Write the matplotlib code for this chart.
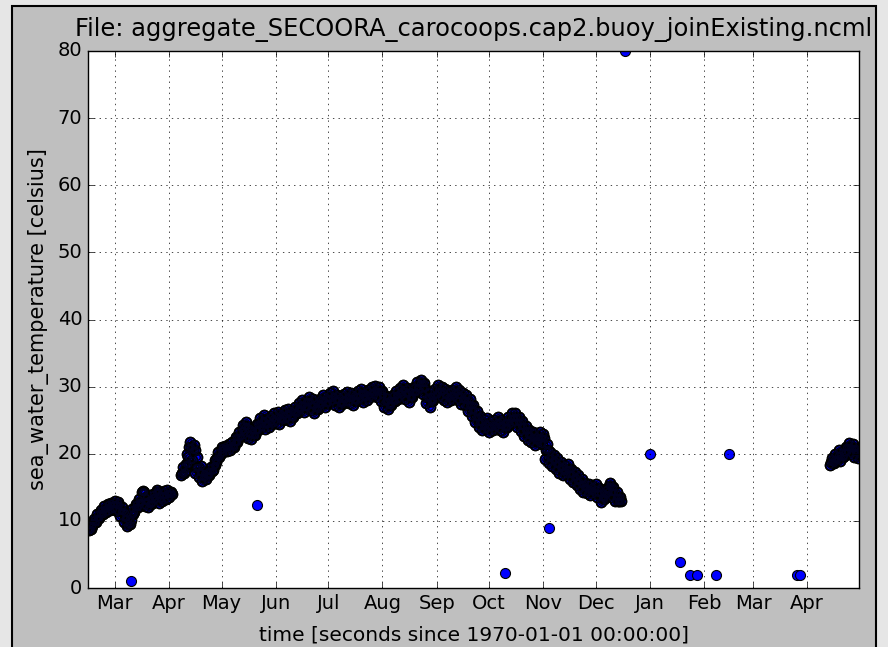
import numpy as np
import pandas as pd
import matplotlib
matplotlib.use('Agg')
import matplotlib.pyplot as plt
import matplotlib.dates as mdates
from matplotlib.patches import Rectangle

# buoy record: every 2 days a low, a middle and a
# high reading (the band is the daily swing)
seg1_start = '2005-02-14'
seg1_lo = [8.6, 9.2, 9.8, 10.5, 11.0, 11.3, 11.6, 11.8,
           11.5, 10.8, 9.8, 9.2, 10.2, 11.3, 12.0, 12.8, 12.2, 12.0,
           12.6, 13.2, 12.6, 13.0, 13.2,
           13.5]
seg1_mid = [8.8, 9.8, 10.5, 11.2, 11.8, 12.0, 12.3, 12.5,
            12.3, 11.5, 10.5, 9.5, 11.0, 12.0, 12.8, 14.3, 13.0, 12.5,
            13.5, 14.3, 13.2, 13.8, 14.2,
            14.0]
seg1_hi = [9.5, 10.3, 11.0, 11.6, 12.2, 12.5, 12.6, 13.0,
           12.8, 12.0, 11.3, 10.5, 11.8, 12.5, 13.3, 14.5, 13.5, 13.3,
           14.0, 14.6, 13.8, 14.5, 14.6,
           14.3]

seg2_start = '2005-04-08'
seg2_lo = [16.8, 17.5, 19.5, 19.0, 17.2, 16.6, 16.0, 16.3, 16.9, 17.6, 18.8, 19.8,        # Apr
           20.2, 20.4, 20.6, 21.0, 21.8, 22.6, 23.2, 22.3, 22.2, 22.8, 23.6, 24.0,
           23.7, 24.0, 24.4,                                                             # May
           24.6, 24.5, 25.0, 25.2, 24.9, 25.5, 26.0, 26.5, 26.2, 26.9, 26.5, 26.1,
           26.7, 27.2, 26.9,                                                             # Jun
           27.6, 27.8, 27.2, 26.9, 27.4, 27.7, 27.6, 27.3, 27.8, 28.2, 27.7, 28.0,
           28.4, 28.7, 28.5, 27.9,                                                       # Jul
           27.0, 26.7, 27.2, 27.9, 28.2, 28.8, 28.2, 27.7, 28.4, 29.2, 29.6, 28.9,
           27.6, 27.0, 28.0,                                                             # Aug
           28.7, 28.5, 28.0, 27.7, 28.0, 28.4, 28.0, 27.4, 27.2, 26.4, 25.6, 24.7,
           24.0, 23.5, 23.7,                                                             # Sep
           23.3, 23.6, 24.0, 23.6, 23.3, 24.0, 24.5, 24.7, 24.0, 23.4, 22.7, 22.0,
           21.7, 21.3, 21.7, 21.5,                                                       # Oct
           19.2, 18.6, 18.2, 17.7, 17.2, 16.8, 17.0, 16.2, 15.8, 15.3, 14.8, 14.3,
           14.1, 13.8, 14.1,                                                             # Nov
           13.5, 12.8, 13.3, 14.4, 13.6, 12.9, 12.9]                                     # Dec
seg2_mid = [17.2, 18.5, 21.0, 20.5, 18.0, 17.3, 16.5, 16.8, 17.5, 18.3, 19.5, 20.5,
            20.8, 21.0, 21.2, 21.8, 22.5, 23.5, 24.2, 23.0, 22.8, 23.5, 24.5, 25.0,
            24.5, 24.8, 25.3,
            25.5, 25.2, 25.8, 26.0, 25.5, 26.2, 26.8, 27.3, 27.0, 27.8, 27.3, 26.8,
            27.5, 28.0, 27.6,
            28.3, 28.6, 28.0, 27.6, 28.2, 28.5, 28.3, 28.0, 28.6, 29.0, 28.4, 28.8,
            29.2, 29.5, 29.3, 28.7,
            27.8, 27.3, 28.0, 28.7, 29.0, 29.6, 29.0, 28.5, 29.2, 30.0, 30.5, 29.8,
            28.5, 27.8, 28.8,
            29.5, 29.3, 28.8, 28.5, 28.8, 29.2, 28.8, 28.2, 28.0, 27.3, 26.5, 25.5,
            24.8, 24.2, 24.5,
            24.0, 24.3, 24.8, 24.3, 24.0, 24.8, 25.3, 25.5, 24.8, 24.2, 23.5, 22.8,
            22.5, 22.0, 22.5, 22.3,
            20.5, 19.5, 19.0, 18.5, 18.0, 17.5, 17.8, 17.0, 16.5, 16.0, 15.5, 15.0,
            14.8, 14.5, 14.8,
            14.2, 13.5, 14.0, 15.2, 14.3, 13.5, 13.0]
seg2_hi = [18.0, 20.0, 21.7, 21.3, 19.5, 18.2, 17.2, 17.4, 18.0, 19.0, 20.3, 21.0,
           21.2, 21.5, 21.8, 22.5, 23.3, 24.3, 24.8, 23.8, 23.6, 24.4, 25.3, 25.8,
           25.2, 25.6, 26.0,
           26.2, 25.9, 26.5, 26.7, 26.3, 27.0, 27.6, 28.0, 27.8, 28.5, 28.1, 27.6,
           28.2, 28.8, 28.4,
           29.0, 29.3, 28.8, 28.4, 28.9, 29.2, 29.0, 28.8, 29.3, 29.6, 29.1, 29.5,
           29.9, 30.1, 30.0, 29.4,
           28.6, 28.0, 28.8, 29.4, 29.8, 30.3, 29.8, 29.3, 30.0, 30.7, 31.0, 30.5,
           29.3, 28.6, 29.6,
           30.3, 30.0, 29.6, 29.3, 29.5, 29.9, 29.5, 29.0, 28.8, 28.1, 27.3, 26.3,
           25.6, 25.0, 25.3,
           24.7, 25.0, 25.5, 25.0, 24.7, 25.5, 26.0, 26.1, 25.5, 24.9, 24.2, 23.5,
           23.2, 22.7, 23.2, 22.9,
           21.5, 20.3, 19.8, 19.3, 18.8, 18.3, 18.5, 17.8, 17.3, 16.8, 16.2, 15.7,
           15.5, 15.2, 15.5,
           14.9, 14.3, 14.8, 15.6, 15.1, 14.3, 13.5]

seg3_start = '2006-04-14'
seg3_lo = [18.3, 18.6, 19.1, 18.9, 19.6, 20.2, 20.0, 19.5, 19.4]
seg3_mid = [18.8, 19.2, 19.8, 19.5, 20.3, 21.0, 20.8, 20.2, 20.0]
seg3_hi = [19.4, 20.0, 20.6, 20.3, 21.0, 21.6, 21.4, 20.9, 20.6]

# isolated readings
odd_dates = ['2005-03-10', '2005-05-21', '2005-10-10', '2005-11-04', '2005-12-18',
             '2006-01-01', '2006-01-18', '2006-01-24', '2006-01-28', '2006-02-08',
             '2006-02-15', '2006-03-26', '2006-03-28']
odd_vals = [1.0, 12.4, 2.2, 8.9, 80.0, 20.0, 3.9, 1.9, 1.9, 1.9, 20.0, 1.9, 1.9]

title = 'File: aggregate_SECOORA_carocoops.cap2.buoy_joinExisting.ncml'
xlabel = 'time [seconds since 1970-01-01 00:00:00]'
ylabel = 'sea_water_temperature [celsius]'

plt.style.use('classic')
plt.rcParams['font.family'] = ['DejaVu Sans']

fig = plt.figure(figsize=(8.88, 6.47), dpi=100)
fig.patch.set_facecolor('#e6e6e6')
fig.patches.append(Rectangle((12 / 888, -0.05), 864 / 888, 1.05 - 6 / 647,
                             transform=fig.transFigure, facecolor='#bfbfbf',
                             edgecolor='black', linewidth=1.5, zorder=-1))

ax = fig.add_axes([88 / 888, 59 / 647, 771 / 888, 537 / 647])

times = []
temps = []
for start, lo, mid, hi in [(seg1_start, seg1_lo, seg1_mid, seg1_hi),
                           (seg2_start, seg2_lo, seg2_mid, seg2_hi),
                           (seg3_start, seg3_lo, seg3_mid, seg3_hi)]:
    d = pd.date_range(start, periods=len(lo), freq='2D')
    for day, a, m, b in zip(d, lo, mid, hi):
        times += [day, day + pd.Timedelta(hours=12), day + pd.Timedelta(hours=24),
                  day + pd.Timedelta(hours=36)]
        temps += [a, m, b, m]

# dense record: blue dots, then outlines once more on top, as the real
# hourly record buries the faces under its many outlines
ax.plot(times, temps, 'o', color='b', markeredgecolor='k', markeredgewidth=1.0,
        markersize=7.2, linestyle='none')
ax.plot(times, temps, 'o', markerfacecolor='none', markeredgecolor='k',
        markeredgewidth=1.2, markersize=7.2, linestyle='none')
ax.plot(times, temps, 'o', markerfacecolor='none', markeredgecolor='#000020',
        markeredgewidth=1.0, markersize=4.0, linestyle='none')
ax.plot(pd.to_datetime(odd_dates), odd_vals, 'o', color='b', markeredgecolor='k',
        markeredgewidth=0.8, markersize=7.2, linestyle='none')

ax.set_xlim(pd.Timestamp('2005-02-13 14:00'), pd.Timestamp('2006-04-30 14:00'))
ax.set_ylim(0, 80)
ax.set_yticks(np.arange(0, 81, 10))
ax.xaxis.set_major_locator(mdates.MonthLocator())
ax.xaxis.set_major_formatter(mdates.DateFormatter('%b'))
ax.tick_params(labelsize=14)
ax.grid(True)

ax.set_title(title, fontsize=17.4, pad=11)
ax.set_xlabel(xlabel, fontsize=14.5, labelpad=9)
ax.set_ylabel(ylabel, fontsize=15, labelpad=6)

fig.savefig('out.png', dpi=100, facecolor=fig.get_facecolor())
